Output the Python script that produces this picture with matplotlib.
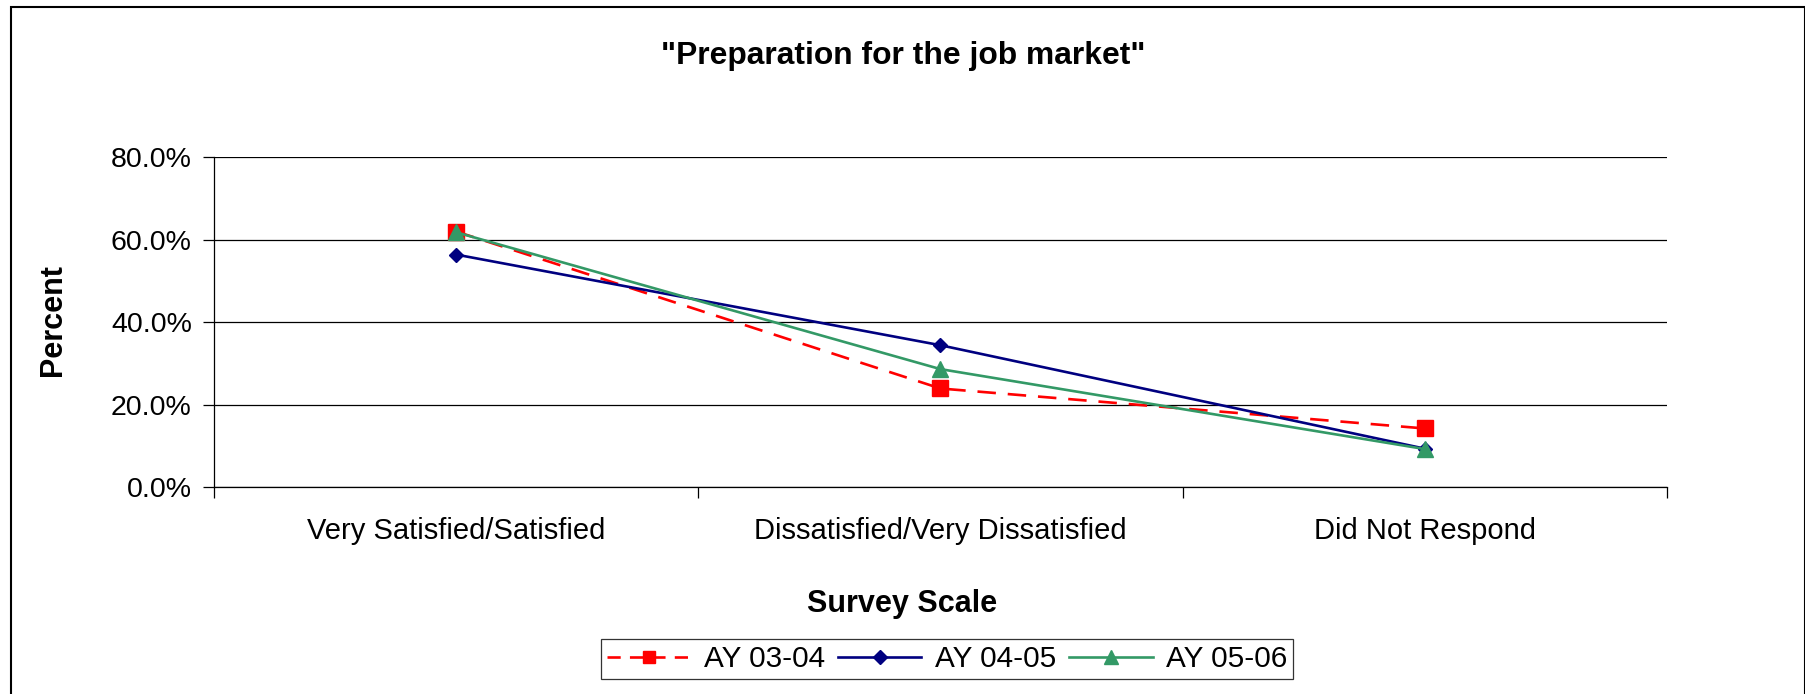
import matplotlib
matplotlib.use("Agg")
import matplotlib.pyplot as plt
from matplotlib.lines import Line2D
from matplotlib.patches import Rectangle
from matplotlib.ticker import FuncFormatter, FixedLocator

plt.rcParams['font.family'] = ['Liberation Sans', 'DejaVu Sans']

# Survey responses (percent of respondents)
categories = ['Very Satisfied/Satisfied', 'Dissatisfied/Very Dissatisfied', 'Did Not Respond']
ay_03_04 = [62.0, 23.9, 14.2]
ay_04_05 = [56.4, 34.4, 9.3]
ay_05_06 = [61.8, 28.6, 9.2]
series_labels = ['AY 03-04', 'AY 04-05', 'AY 05-06']
y_ticks = [0, 20, 40, 60, 80]

red = '#FF0000'
navy = '#000080'
green = '#339966'
lw = 1.9

fig = plt.figure(figsize=(18.06, 6.94), dpi=100)
ax = fig.add_axes([0.1185, 0.2983, 0.8045, 0.4750])

x = list(range(len(categories)))
ax.plot(x, ay_03_04, color=red, lw=lw, dashes=(7, 4.5), marker='s', ms=11,
        mec=red, mfc=red, zorder=3)
ax.plot(x, ay_04_05, color=navy, lw=lw, marker='D', ms=7.5,
        mec=navy, mfc=navy, zorder=4)
ax.plot(x, ay_05_06, color=green, lw=lw, marker='^', ms=11,
        mec=green, mfc=green, zorder=5)

ax.set_xlim(-0.5, len(categories) - 0.5)
ax.set_ylim(0, 80)

# y axis: percent labels with black gridlines
ax.set_yticks(y_ticks)
ax.yaxis.set_major_formatter(FuncFormatter(lambda v, p: f'{v:.1f}%'))
ax.yaxis.grid(True, color='black', lw=0.9)
ax.tick_params(axis='y', direction='out', length=8, width=0.9, pad=8,
               labelsize=20.5, colors='black')

# x axis: ticks between categories, labels centred on categories
ax.xaxis.set_major_locator(FixedLocator([i - 0.5 for i in range(len(categories) + 1)]))
ax.xaxis.set_major_formatter(FuncFormatter(lambda v, p: ''))
ax.xaxis.set_minor_locator(FixedLocator(x))
ax.set_xticklabels(categories, minor=True)
ax.tick_params(axis='x', which='major', direction='out', length=8, width=0.9)
ax.tick_params(axis='x', which='minor', length=0, pad=21.5, labelsize=21)

for side in ['top', 'right']:
    ax.spines[side].set_visible(False)
for side in ['left', 'bottom']:
    ax.spines[side].set_linewidth(0.9)
    ax.spines[side].set_color('black')
ax.set_axisbelow(True)

fig.text(0.5, 0.919, '"Preparation for the job market"', ha='center', va='center',
         fontsize=22.9, fontweight='bold')
fig.text(0.4995, 0.129, 'Survey Scale', ha='center', va='center',
         fontsize=22, fontweight='bold')
fig.text(0.0293, 0.539, 'Percent', ha='center', va='center', rotation=90,
         fontsize=22, fontweight='bold')

handles = [
    Line2D([], [], color=red, lw=lw, dashes=(5, 3.5), marker='s', ms=9, mec=red, mfc=red),
    Line2D([], [], color=navy, lw=lw, marker='D', ms=7, mec=navy, mfc=navy),
    Line2D([], [], color=green, lw=lw, marker='^', ms=10, mec=green, mfc=green),
]
leg = fig.legend(handles, series_labels, loc='center', bbox_to_anchor=(0.5245, 0.0504),
                 ncol=3, fontsize=21.4, frameon=True, fancybox=False, edgecolor='black',
                 handlelength=2.8, handletextpad=0.45, columnspacing=0.45,
                 borderpad=0.2, borderaxespad=0)
leg.get_frame().set_linewidth(0.9)

# chart area border
fig.patches.append(Rectangle((0.0061, -0.02), 0.9933, 1.0092, transform=fig.transFigure,
                             fill=False, edgecolor='black', lw=1.5))

fig.savefig('out.png', dpi=100)
